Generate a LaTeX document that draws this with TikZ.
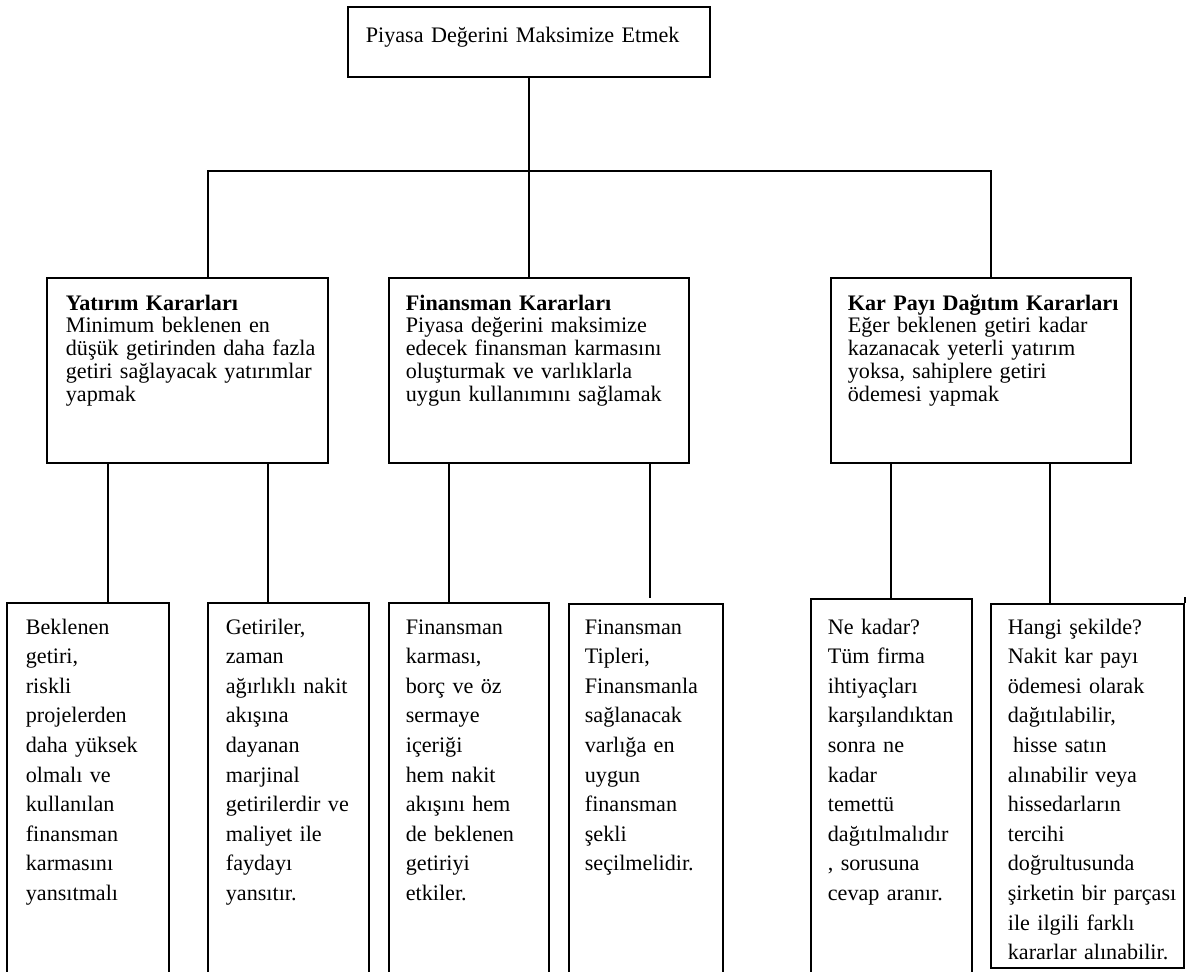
\documentclass[tikz,border=0pt]{standalone}
\usepackage{fontspec}
\setmainfont{Liberation Serif}
\tikzset{
  kutu/.style={draw, line width=1pt, inner sep=0pt},
  yazi/.style={anchor=base west, inner sep=0pt, align=left, text width=6.4cm,
    font=\fontsize{12.6}{13}\selectfont},
  altyazi/.style={yazi, text width=4cm, font=\fontsize{12.6}{16.85}\selectfont},
}
\begin{document}
\begin{tikzpicture}[x=0.02cm, y=-0.02cm, line width=1pt]
  \clip (0,0) rectangle (1187,971);
  \fill[white] (0,0) rectangle (1187,971);
  % ust kutu
  \node[kutu, minimum width=7.24cm, minimum height=1.4cm] (top) at (529,42) {};
  \node[yazi] (topy) at (365,42) {Piyasa Değerini Maksimize Etmek};
  % orta kutular
  \node[kutu, minimum width=5.62cm, minimum height=3.7cm] (yk) at (187.5,370.5) {};
  \node[kutu, minimum width=6cm, minimum height=3.7cm] (fk) at (539,370.5) {};
  \node[kutu, minimum width=6cm, minimum height=3.7cm] (kk) at (981,370.5) {};
  \node[yazi] (yky) at (65,310) {\textbf{Yatırım Kararları}\\Minimum beklenen en\\düşük getirinden daha fazla\\getiri sağlayacak yatırımlar\\yapmak};
  \node[yazi] (fky) at (405,310) {\textbf{Finansman Kararları}\\Piyasa değerini maksimize\\edecek finansman karmasını\\oluşturmak ve varlıklarla\\uygun kullanımını sağlamak};
  \node[yazi] (kky) at (847,310) {\textbf{Kar Payı Dağıtım Kararları}\\Eğer beklenen getiri kadar\\kazanacak yeterli yatırım\\yoksa, sahiplere getiri\\ödemesi yapmak};
  % alt kutular
  \node[kutu, minimum width=3.24cm, minimum height=7.74cm] (b1) at (88,796.5) {};
  \node[kutu, minimum width=3.22cm, minimum height=7.74cm] (b2) at (288.5,796.5) {};
  \node[kutu, minimum width=3.2cm, minimum height=7.74cm] (b3) at (469,796.5) {};
  \node[kutu, minimum width=3.08cm, minimum height=7.72cm] (b4) at (646,797) {};
  \node[kutu, minimum width=3.22cm, minimum height=7.82cm] (b5) at (891.5,794.5) {};
  \node[kutu, minimum width=3.86cm, minimum height=7.28cm] (b6) at (1087.5,786) {};
  \node[altyazi] (b1y) at (25,634) {Beklenen\\getiri,\\riskli\\projelerden\\daha yüksek\\olmalı ve\\kullanılan\\finansman\\karmasını\\yansıtmalı};
  \node[altyazi] (b2y) at (225,634) {Getiriler,\\zaman\\ağırlıklı nakit\\akışına\\dayanan\\marjinal\\getirilerdir ve\\maliyet ile\\faydayı\\yansıtır.};
  \node[altyazi] (b3y) at (405,634) {Finansman\\karması,\\borç ve öz\\sermaye\\içeriği\\hem nakit\\akışını hem\\de beklenen\\getiriyi\\etkiler.};
  \node[altyazi] (b4y) at (584,634) {Finansman\\Tipleri,\\Finansmanla\\sağlanacak\\varlığa en\\uygun\\finansman\\şekli\\seçilmelidir.};
  \node[altyazi] (b5y) at (827,634) {Ne kadar?\\Tüm firma\\ihtiyaçları\\karşılandıktan\\sonra ne\\kadar\\temettü\\dağıtılmalıdır\\, sorusuna\\cevap aranır.};
  \node[altyazi] (b6y) at (1007,634) {Hangi şekilde?\\Nakit kar payı\\ödemesi olarak\\dağıtılabilir,\\\hspace{3pt}hisse satın\\alınabilir veya\\hissedarların\\tercihi\\doğrultusunda\\şirketin bir parçası\\ile ilgili farklı\\kararlar alınabilir.};
  % baglantilar
  \coordinate (bus) at (0,171);
  \coordinate (b4c) at (650,598);
  \draw (top.south) -- (top.south |- bus);
  \draw (208,0 |- yk.north) |- (991,0 |- bus) -- (991,0 |- kk.north);
  \draw (top.south |- bus) -- (top.south |- fk.north);
  \draw (108,0 |- yk.south) -- (108,0 |- b1.north);
  \draw (268,0 |- yk.south) -- (268,0 |- b2.north);
  \draw (449,0 |- fk.south) -- (449,0 |- b3.north);
  \draw (650,0 |- fk.south) -- (b4c);
  \draw (891,0 |- kk.south) -- (891,0 |- b5.north);
  \draw (1050,0 |- kk.south) -- (1050,0 |- b6.north);
  \draw (b6.north east) -- ++(0,-6);
\end{tikzpicture}
\end{document}
